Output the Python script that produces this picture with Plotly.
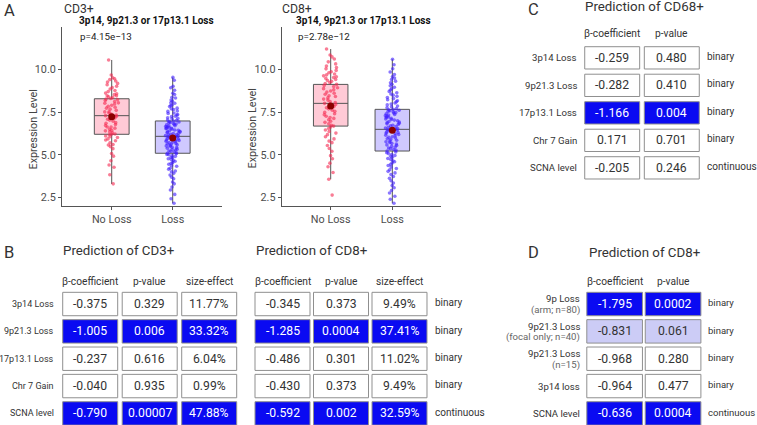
import plotly.graph_objects as go

W, H = 757, 425


def px(x):
    return x / W


def py(y):
    return 1 - y / H


# ---------------- Panel A data ----------------
groups = ["No Loss", "Loss"]
y_ticks = [2.5, 5.0, 7.5, 10.0]
y_tick_text = ["2.5", "5.0", "7.5", "10.0"]

cd3_noloss = [3.31, 3.84, 4.28, 4.41, 4.66, 4.93, 5.08, 5.37, 5.49, 5.58, 5.61, 5.71, 5.83, 5.88, 5.94, 6.02,
              6.07, 6.11, 6.18, 6.21, 6.23, 6.29, 6.36, 6.41, 6.44, 6.50, 6.57, 6.63, 6.64, 6.72, 6.78, 6.85,
              6.89, 6.97, 7.04, 7.09, 7.16, 7.21, 7.26, 7.30, 7.33, 7.39, 7.45, 7.52, 7.53, 7.61, 7.68, 7.74,
              7.79, 7.85, 7.91, 7.98, 8.03, 8.05, 8.13, 8.19, 8.24, 8.27, 8.31, 8.36, 8.40, 8.46, 8.47, 8.53,
              8.58, 8.62, 8.71, 8.77, 8.86, 8.94, 9.02, 9.11, 9.19, 9.27, 9.33, 9.41, 9.46, 9.52, 9.68, 10.56]
cd3_loss = [2.17, 2.44, 2.69, 2.95, 3.12, 3.31, 3.42, 3.61, 3.70, 3.82, 3.93, 4.02, 4.06, 4.17, 4.22, 4.34,
            4.37, 4.46, 4.51, 4.55, 4.63, 4.67, 4.74, 4.78, 4.84, 4.87, 4.92, 4.96, 5.01, 5.03, 5.07, 5.10,
            5.12, 5.18, 5.21, 5.23, 5.29, 5.33, 5.34, 5.39, 5.43, 5.45, 5.51, 5.53, 5.56, 5.60, 5.63, 5.66,
            5.67, 5.72, 5.75, 5.78, 5.80, 5.85, 5.87, 5.88, 5.93, 5.96, 5.98, 6.01, 6.03, 6.05, 6.08, 6.09,
            6.12, 6.13, 6.18, 6.20, 6.21, 6.26, 6.27, 6.31, 6.34, 6.35, 6.39, 6.42, 6.45, 6.46, 6.51, 6.53,
            6.56, 6.57, 6.62, 6.64, 6.67, 6.70, 6.71, 6.76, 6.78, 6.81, 6.84, 6.88, 6.90, 6.93, 6.96, 6.99,
            7.03, 7.05, 7.12, 7.14, 7.18, 7.25, 7.27, 7.34, 7.37, 7.43, 7.46, 7.55, 7.57, 7.66, 7.70, 7.74,
            7.83, 7.89, 7.92, 8.03, 8.06, 8.15, 8.21, 8.33, 8.38, 8.54, 8.61, 8.79, 8.93, 9.02, 9.37, 9.54]
cd8_noloss = [2.65, 3.58, 3.97, 4.31, 4.52, 4.78, 4.96, 5.22, 5.38, 5.55, 5.72, 5.81, 5.94, 6.07, 6.19, 6.28,
              6.37, 6.46, 6.55, 6.63, 6.69, 6.74, 6.83, 6.91, 6.98, 7.06, 7.14, 7.19, 7.27, 7.35, 7.41, 7.49,
              7.56, 7.62, 7.70, 7.76, 7.83, 7.88, 7.95, 8.02, 8.07, 8.13, 8.21, 8.27, 8.34, 8.42, 8.47, 8.55,
              8.61, 8.68, 8.74, 8.81, 8.88, 8.93, 9.00, 9.06, 9.13, 9.18, 9.24, 9.31, 9.36, 9.42, 9.48, 9.53,
              9.58, 9.63, 9.69, 9.74, 9.81, 9.87, 9.95, 10.04, 10.12, 10.21, 10.33, 10.45, 10.62, 10.74, 10.85, 11.20]
cd8_loss = [2.17, 2.41, 2.58, 2.77, 2.92, 3.08, 3.21, 3.36, 3.49, 3.63, 3.74, 3.86, 3.95, 4.04, 4.13, 4.21,
            4.29, 4.38, 4.45, 4.53, 4.60, 4.66, 4.73, 4.79, 4.86, 4.92, 4.97, 5.03, 5.08, 5.13, 5.18, 5.23,
            5.27, 5.32, 5.37, 5.41, 5.46, 5.50, 5.55, 5.59, 5.64, 5.68, 5.73, 5.77, 5.81, 5.86, 5.90, 5.95,
            5.99, 6.03, 6.07, 6.12, 6.16, 6.20, 6.24, 6.28, 6.31, 6.35, 6.38, 6.41, 6.44, 6.46, 6.48, 6.50,
            6.54, 6.58, 6.62, 6.66, 6.70, 6.74, 6.78, 6.82, 6.85, 6.89, 6.93, 6.96, 7.00, 7.04, 7.08, 7.11,
            7.15, 7.19, 7.22, 7.26, 7.30, 7.34, 7.37, 7.41, 7.45, 7.48, 7.52, 7.55, 7.59, 7.62, 7.65, 7.67,
            7.71, 7.76, 7.82, 7.87, 7.93, 7.98, 8.04, 8.11, 8.17, 8.23, 8.30, 8.36, 8.43, 8.50, 8.57, 8.64,
            8.72, 8.80, 8.88, 8.96, 9.05, 9.14, 9.23, 9.32, 9.41, 9.50, 9.58, 9.71, 9.86, 10.05, 10.28, 10.60]

cd3_q1 = [6.21, 5.10]
cd3_median = [7.30, 6.09]
cd3_q3 = [8.29, 6.99]
cd3_lower = [3.30, 2.17]
cd3_upper = [10.56, 9.54]
cd3_mean = [7.24, 5.99]

cd8_q1 = [6.69, 5.23]
cd8_median = [8.02, 6.50]
cd8_q3 = [9.13, 7.67]
cd8_lower = [3.58, 2.17]
cd8_upper = [11.20, 10.60]
cd8_mean = [7.86, 6.44]

# ---------------- Table data ----------------
b_rows = ["3p14 Loss", "9p21.3 Loss", "17p13.1 Loss", "Chr 7 Gain", "SCNA level"]
b_types = ["binary", "binary", "binary", "binary", "continuous"]
b_headers = ["β-coefficient", "p-value", "size-effect"]
cd3_beta = ["-0.375", "-1.005", "-0.237", "-0.040", "-0.790"]
cd3_p = ["0.329", "0.006", "0.616", "0.935", "0.00007"]
cd3_effect = ["11.77%", "33.32%", "6.04%", "0.99%", "47.88%"]
cd3_sig = ["no", "yes", "no", "no", "yes"]
cd8_beta = ["-0.345", "-1.285", "-0.486", "-0.430", "-0.592"]
cd8_p = ["0.373", "0.0004", "0.301", "0.373", "0.002"]
cd8_effect = ["9.49%", "37.41%", "11.02%", "9.49%", "32.59%"]
cd8_sig = ["no", "yes", "no", "no", "yes"]

c_rows = ["3p14 Loss", "9p21.3 Loss", "17p13.1 Loss", "Chr 7 Gain", "SCNA level"]
c_types = ["binary", "binary", "binary", "binary", "continuous"]
c_headers = ["β-coefficient", "p-value"]
cd68_beta = ["-0.259", "-0.282", "-1.166", "0.171", "-0.205"]
cd68_p = ["0.480", "0.410", "0.004", "0.701", "0.246"]
cd68_sig = ["no", "no", "yes", "no", "no"]

d_rows = ["9p Loss", "9p21.3 Loss", "9p21.3 Loss", "3p14 loss", "SCNA level"]
d_subrows = ["(arm; n=80)", "(focal only; n=40)", "(n=15)", "", ""]
d_types = ["binary", "binary", "binary", "binary", "continuous"]
d_headers = ["β-coefficient", "p-value"]
d_beta = ["-1.795", "-0.831", "-0.968", "-0.964", "-0.636"]
d_p = ["0.0002", "0.061", "0.280", "0.477", "0.0004"]
d_sig = ["yes", "weak", "no", "no", "yes"]

FONT = "Roboto"
TXT = "#333333"
fills = {"yes": "#0a0af2", "weak": "#ccccf6", "no": "#ffffff"}
text_cols = {"yes": "#ffffff", "weak": "#333333", "no": "#333333"}

fig = go.Figure()
shapes = []
annotations = []
layout = {}


def ann(text, x, y, size, color=TXT, xanchor="left", yanchor="middle", xref="paper", yref="paper",
        bold=False, angle=0):
    if bold:
        text = "<b>" + text + "</b>"
    annotations.append(dict(text=text, x=x, y=y, xref=xref, yref=yref, showarrow=False,
                            xanchor=xanchor, yanchor=yanchor, textangle=angle, borderpad=0,
                            font=dict(family=FONT, size=size, color=color)))


# ---------------- Box panels ----------------
axis_common = dict(showline=True, linecolor="#555555", linewidth=1, ticks="outside", ticklen=3,
                   tickcolor="#555555", showgrid=False, zeroline=False, fixedrange=True,
                   automargin=False, tickfont=dict(family=FONT, size=10.8, color="#4d4d4d"))


def add_box_panel(n, xdom, xrange, pts, q1, med, q3, lo, hi, mean, bw):
    xa = "x" if n == 1 else f"x{n}"
    ya = "y" if n == 1 else f"y{n}"
    box_fill = ["rgba(255,95,130,0.33)", "rgba(95,75,255,0.30)"]
    pt_col = ["#f5264f", "#3d1cff"]
    for i in range(2):
        fig.add_trace(go.Box(x=[i], q1=[q1[i]], median=[med[i]], q3=[q3[i]], lowerfence=[lo[i]],
                             upperfence=[hi[i]], width=bw, fillcolor=box_fill[i],
                             line=dict(color="#555555", width=1), whiskerwidth=0, boxpoints=False,
                             xaxis=xa, yaxis=ya, showlegend=False, hoverinfo="skip"))
    for i in range(2):
        fig.add_trace(go.Box(x=[i] * len(pts[i]), y=pts[i], boxpoints="all", jitter=0.45, pointpos=0,
                             width=bw, fillcolor="rgba(0,0,0,0)",
                             line=dict(color="rgba(0,0,0,0)", width=0),
                             marker=dict(color=pt_col[i], size=3.6, opacity=0.6),
                             xaxis=xa, yaxis=ya, showlegend=False))
    fig.add_trace(go.Scatter(x=[0, 1], y=mean, mode="markers",
                             marker=dict(color="#8b0000", size=7), xaxis=xa, yaxis=ya,
                             showlegend=False, hoverinfo="skip"))
    key = "" if n == 1 else str(n)
    layout["xaxis" + key] = dict(domain=xdom, range=xrange, tickvals=[0, 1], ticktext=groups,
                                 anchor=ya, **axis_common)
    layout["yaxis" + key] = dict(domain=[py(205.7), py(27)], range=[2.03, 12.49], tickvals=y_ticks,
                                 ticktext=y_tick_text, anchor=xa, **axis_common)


add_box_panel(1, [px(62), px(222)], [-0.815, 1.808], [cd3_noloss, cd3_loss],
              cd3_q1, cd3_median, cd3_q3, cd3_lower, cd3_upper, cd3_mean, 0.57)
add_box_panel(2, [px(281.7), px(441)], [-0.795, 1.79], [cd8_noloss, cd8_loss],
              cd8_q1, cd8_median, cd8_q3, cd8_lower, cd8_upper, cd8_mean, 0.56)

ann("A", px(2.5), py(10), 16.5)
ann("CD3+", px(62.5), py(9.5), 12.2)
ann("3p14, 9p21.3 or 17p13.1 Loss", px(77.5), py(21.5), 10, color="#111111", bold=True)
ann("p=4.15e−13", px(78.5), py(36), 9.8, color="#222222")
ann("Expression Level", px(32.5), py(130), 10.8, color="#444444", xanchor="center", angle=-90)
ann("CD8+", px(281), py(9.5), 12.2)
ann("3p14, 9p21.3 or 17p13.1 Loss", px(295), py(21.5), 10, color="#111111", bold=True)
ann("p=2.78e−12", px(296.5), py(36), 9.8, color="#222222")
ann("Expression Level", px(252.5), py(129), 10.8, color="#444444", xanchor="center", angle=-90)


# ---------------- Tables ----------------
def add_table(n, xdom, ydom, xrange, yrange, cols, sig, hw, hh):
    xa, ya = f"x{n}", f"y{n}"
    layout[f"xaxis{n}"] = dict(domain=xdom, range=xrange, visible=False, anchor=ya, fixedrange=True)
    layout[f"yaxis{n}"] = dict(domain=ydom, range=yrange, visible=False, anchor=xa, fixedrange=True)
    for ci, col in enumerate(cols):
        for ri, val in enumerate(col):
            s = sig[ri]
            shapes.append(dict(type="rect", xref=xa, yref=ya, x0=ci - hw, x1=ci + hw,
                               y0=ri - hh, y1=ri + hh, fillcolor=fills[s],
                               line=dict(color="#8f8f8f", width=1)))
            ann(val, ci, ri, 12.2, color=text_cols[s], xanchor="center", xref=xa, yref=ya)


# rows of B and D tables: first top at 290.35 px, pitch 27.35 px
row_dom = [0, py(290.35)]
row_range = [(425 - 290.35) / 27.35 - 0.5, -0.5]

# B: CD3
add_table(3, [px(60.45), px(238.95)], row_dom, [-0.5, 2.5],
          row_range, [cd3_beta, cd3_p, cd3_effect], cd3_sig, 0.462, 0.428)
# B: CD8
add_table(4, [px(253.25), px(428.75)], row_dom, [-0.5, 2.5],
          row_range, [cd8_beta, cd8_p, cd8_effect], cd8_sig, 0.47, 0.428)
# C: CD68
add_table(5, [px(582.4), px(701.6)], [py(181.6), py(44.1)], [-0.5, 1.5],
          [4.5, -0.5], [cd68_beta, cd68_p], cd68_sig, 0.461, 0.405)
# D: CD8
add_table(6, [px(585.4), px(702.3)], row_dom, [-0.5, 1.5],
          row_range, [d_beta, d_p], d_sig, 0.476, 0.428)

# B labels
ann("B", px(2.5), py(252.5), 16.5)
ann("Prediction of CD3+", px(62), py(250.5), 13.3)
ann("Prediction of CD8+", px(254.5), py(250.5), 13.3)
for ci, h in enumerate(b_headers):
    ann(h, ci, py(281), 10.2, xanchor="center", xref="x3")
    ann(h, ci, py(281), 10.2, xanchor="center", xref="x4")
for ri, r in enumerate(b_rows):
    ann(r, px(55.2), ri, 9.0, xanchor="right", yref="y3")
    ann(b_types[ri], px(433.5), ri - 0.05, 10, yref="y4")

# C labels
ann("C", px(526.5), py(9.5), 16.5)
ann("Prediction of CD68+", px(584), py(6.5), 13.3)
for ci, h in enumerate(c_headers):
    ann(h, ci, py(34), 10.2, xanchor="center", xref="x5")
for ri, r in enumerate(c_rows):
    ann(r, px(577.5), ri, 9.6, xanchor="right", yref="y5")
    ann(c_types[ri], px(706.2), ri - 0.05, 10, yref="y5")

# D labels
ann("D", px(526.5), py(252.5), 16.5)
ann("Prediction of CD8+", px(588), py(252.5), 13.3)
for ci, h in enumerate(d_headers):
    ann(h, ci, py(281.7), 10.2, xanchor="center", xref="x6")
for ri, r in enumerate(d_rows):
    if d_subrows[ri]:
        ann(r, px(580.7), ri - 0.19, 9.6, xanchor="right", yref="y6")
        ann(d_subrows[ri], px(580.7), ri + 0.22, 9.6, color="#666666", xanchor="right", yref="y6")
    else:
        ann(r, px(580.7), ri, 9.6, xanchor="right", yref="y6")
    ann(d_types[ri], px(707), ri - 0.05, 9.5, yref="y6")

fig.update_layout(
    width=W, height=H, margin=dict(l=0, r=0, t=0, b=0, autoexpand=False),
    paper_bgcolor="white", plot_bgcolor="white",
    font=dict(family=FONT, color=TXT),
    showlegend=False, boxmode="overlay",
    shapes=shapes, annotations=annotations,
    **layout,
)

fig.write_html("out.html", config={"displayModeBar": False, "staticPlot": True},
               post_script="document.body.style.margin='0';document.body.style.padding='0';")
